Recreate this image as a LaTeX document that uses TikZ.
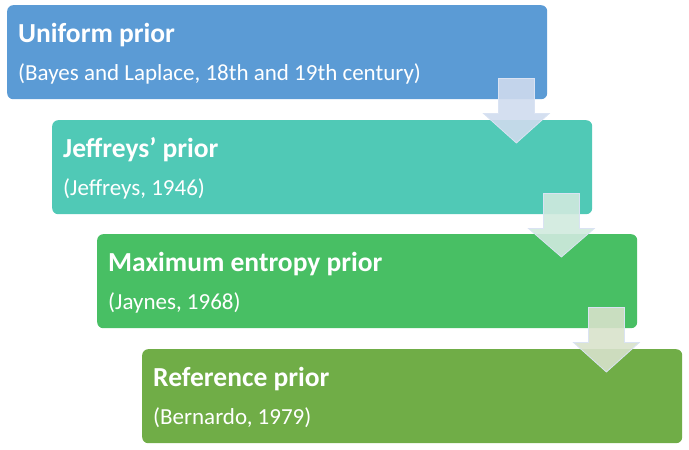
\documentclass[tikz,border=0pt]{standalone}
\usepackage{fontspec}
\setmainfont{Carlito}
\usetikzlibrary{calc}
\definecolor{cone}{RGB}{91,155,213}
\definecolor{ctwo}{RGB}{80,201,182}
\definecolor{cthree}{RGB}{72,191,100}
\definecolor{cfour}{RGB}{112,173,71}
\definecolor{aone}{RGB}{207,219,238}
\definecolor{atwo}{RGB}{208,234,222}
\definecolor{athree}{RGB}{216,226,203}
\definecolor{aline}{RGB}{218,227,243}
\begin{document}
\begin{tikzpicture}[x=1pt,y=-1pt,
  box/.style={draw=none, rounded corners=6pt, minimum width=540pt, minimum height=94pt, inner sep=0pt, anchor=north west},
  ttl/.style={anchor=base west, text=white, font=\fontsize{27.5}{32}\selectfont\bfseries, inner sep=0pt},
  sub/.style={anchor=base west, text=white, font=\fontsize{23}{27}\selectfont, inner sep=0pt},
  darrow/.style={draw=aline, line width=0.8pt, fill opacity=0.9}]
\useasboundingbox (0,0) rectangle (689,450);
\node[box, fill=cone] (b1) at (7,5) {};
\node[box, fill=ctwo] (b2) at (52,120) {};
\node[box, fill=cthree] (b3) at (97,234) {};
\node[box, fill=cfour] (b4) at (142,349) {};
\node[ttl] (t1) at ($(b1.north west)+(11,37)$) {Uniform prior};
\node[sub] (s1) at ($(b1.north west)+(11,75)$) {(Bayes and Laplace, 18th and 19th century)};
\node[ttl] (t2) at ($(b2.north west)+(11,37)$) {Jeffreys’ prior};
\node[sub] (s2) at ($(b2.north west)+(11,75)$) {(Jeffreys, 1946)};
\node[ttl] (t3) at ($(b3.north west)+(11,37)$) {Maximum entropy prior};
\node[sub] (s3) at ($(b3.north west)+(11,75)$) {(Jaynes, 1968)};
\node[ttl] (t4) at ($(b4.north west)+(11,37)$) {Reference prior};
\node[sub] (s4) at ($(b4.north west)+(11,75)$) {(Bernardo, 1979)};
\foreach \a/\b/\c in {b1/b2/aone, b2/b3/atwo, b3/b4/athree}{
  \filldraw[darrow, fill=\c]
    ($(\a.south east)+(-49,-21)$) -- ($(\a.south east)+(-13,-21)$)
    -- ($(\a.south east)+(-13,14)$) -- ($(\a.south east)+(2,14)$)
    -- ($(\b.north east)+(-76,23)$)
    -- ($(\a.south east)+(-64,14)$) -- ($(\a.south east)+(-49,14)$) -- cycle;
}
\end{tikzpicture}
\end{document}
